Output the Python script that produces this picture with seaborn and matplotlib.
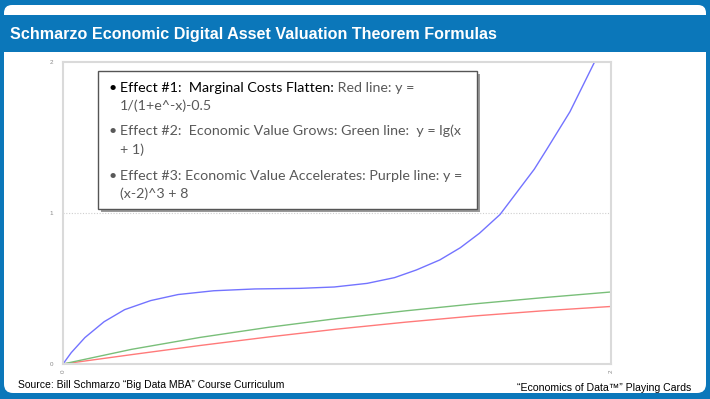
import numpy as np
import pandas as pd
import seaborn as sns
import matplotlib
matplotlib.use("Agg")
import matplotlib.pyplot as plt
from matplotlib.patches import FancyBboxPatch, Rectangle
from matplotlib.transforms import IdentityTransform

# ---------------- data ----------------
title = "Schmarzo Economic Digital Asset Valuation Theorem Formulas"
footer_left = "Source: Bill Schmarzo \u201cBig Data MBA\u201d Course Curriculum"
footer_right = "\u201cEconomics of Data\u2122\u201d Playing Cards"

x_common = [0.0, 0.25, 0.5, 0.75, 1.0, 1.25, 1.5, 1.75, 2.0]
red_y = [0.0, 0.062, 0.1225, 0.179, 0.231, 0.277, 0.318, 0.352, 0.381]
green_y = [0.0, 0.097, 0.176, 0.243, 0.301, 0.352, 0.398, 0.439, 0.477]

blue_x = [0.0, 0.03, 0.08, 0.15, 0.225, 0.32, 0.42, 0.55, 0.70, 0.865,
          0.99, 1.11, 1.21, 1.29, 1.375, 1.45, 1.52, 1.595, 1.67, 1.72,
          1.765, 1.85, 1.94]
blue_y = [0.0, 0.075, 0.175, 0.28, 0.36, 0.42, 0.46, 0.485, 0.497, 0.501,
          0.51, 0.534, 0.572, 0.623, 0.689, 0.77, 0.866, 0.99, 1.17, 1.29,
          1.42, 1.67, 2.0]

y_ticks = [0, 1, 2]
x_ticks = [0, 2]

box_lines = [
    ("Effect #1:  Marginal Costs Flatten:", " Red line: y =", True),
    ("", "1/(1+e^-x)-0.5", False),
    ("", "Effect #2:  Economic Value Grows: Green line:  y = lg(x", True),
    ("", "+ 1)", False),
    ("", "Effect #3: Economic Value Accelerates: Purple line: y =", True),
    ("", "(x-2)^3 + 8", False),
]

# ---------------- figure ----------------
W, H = 710, 399
BLUE = "#0b77ba"
sns.set_theme(style="white")
plt.rcParams["font.family"] = ["Liberation Sans", "DejaVu Sans"]

fig = plt.figure(figsize=(W / 100, H / 100), dpi=100, facecolor=BLUE)

def px(x, y):
    return x, H - y

# top white rounded strip
fig.patches.append(FancyBboxPatch(px(4, 30), 702, 25,
                                  boxstyle="round,pad=0,rounding_size=8",
                                  transform=IdentityTransform(), fc="white", ec="none", zorder=-3))
fig.patches.append(Rectangle(px(4, 52), 702, 37, transform=IdentityTransform(),
                             fc=BLUE, ec="none", zorder=-2))
# content area
fig.patches.append(FancyBboxPatch(px(4, 393), 702, 341,
                                  boxstyle="round,pad=0,rounding_size=9",
                                  transform=IdentityTransform(), fc="white", ec="none", zorder=-3))
fig.patches.append(Rectangle(px(4, 80), 702, 28, transform=IdentityTransform(),
                             fc="white", ec="none", zorder=-2))

fig.text(10 / W, 1 - 38.5 / H, title, color="white", fontsize=11.6, fontweight="bold",
         ha="left", va="baseline", family=["Liberation Sans", "DejaVu Sans"])

# ---------------- axes ----------------
ax = fig.add_axes([63 / W, 1 - 364 / H, (611 - 63) / W, (364 - 62) / H])
ax.set_zorder(1)
ax.set_facecolor("white")

df_red = pd.DataFrame({"x": x_common, "y": red_y})
df_green = pd.DataFrame({"x": x_common, "y": green_y})
df_blue = pd.DataFrame({"x": blue_x, "y": blue_y})

sns.lineplot(data=df_red, x="x", y="y", ax=ax, color="#ff7a7a", lw=1.0)
sns.lineplot(data=df_green, x="x", y="y", ax=ax, color="#79bf79", lw=1.0)
sns.lineplot(data=df_blue, x="x", y="y", ax=ax, color="#7373ff", lw=1.0)

ax.set_xlim(0, 2)
ax.set_ylim(0, 2)
ax.set_xlabel("")
ax.set_ylabel("")
ax.axhline(1, color="#cfcfcf", lw=0.8, ls=(0, (1, 1.5)), zorder=0)
for s in ax.spines.values():
    s.set_color("#dadada")
    s.set_linewidth(1.5)

ax.set_yticks(y_ticks)
ax.set_yticklabels([str(v) for v in y_ticks], fontsize=4.5, color="#888888")
ax.set_xticks(x_ticks)
ax.set_xticklabels([str(v) for v in x_ticks], fontsize=4.5, color="#888888", rotation=90)
ax.tick_params(axis="y", length=0, pad=7)
ax.tick_params(axis="x", length=0, pad=4)

# ---------------- text box ----------------
bx0, by0, bx1, by1 = 98, 71, 477, 209
fig.patches.append(Rectangle(px(bx0 + 3, by1 + 3), bx1 - bx0, by1 - by0,
                             transform=IdentityTransform(), fc="#9a9a9a", ec="none", zorder=5))
fig.patches.append(Rectangle(px(bx0, by1), bx1 - bx0, by1 - by0,
                             transform=IdentityTransform(), fc="white", ec="#555555", lw=1.0, zorder=6))

BFONT = ["Lato", "DejaVu Sans"]
bfs = 10.3
baselines = [91.7, 110, 135, 154.3, 180, 198.3]
fig.canvas.draw()
renderer = fig.canvas.get_renderer()
for (black, gray, bullet), yb in zip(box_lines, baselines):
    xs = 120
    if bullet:
        fig.text(109 / W, 1 - yb / H, "\u2022", fontsize=bfs, family=BFONT,
                 color="#000000" if black else "#595959", ha="left", va="baseline", zorder=7)
    if black:
        t = fig.text(xs / W, 1 - yb / H, black, fontsize=bfs, family=BFONT, color="black",
                     ha="left", va="baseline", zorder=7)
        bb = t.get_window_extent(renderer)
        xs = bb.x1
    fig.text(xs / W, 1 - yb / H, gray, fontsize=bfs, family=BFONT, color="#595959",
             ha="left", va="baseline", zorder=7)

# ---------------- footers ----------------
fig.text(18 / W, 1 - 388 / H, footer_left, fontsize=7.5, color="black", ha="left", va="baseline")
fig.text(691 / W, 1 - 391 / H, footer_right, fontsize=7.6, color="black", ha="right", va="baseline")

fig.savefig("out.png", dpi=100, facecolor=BLUE)
